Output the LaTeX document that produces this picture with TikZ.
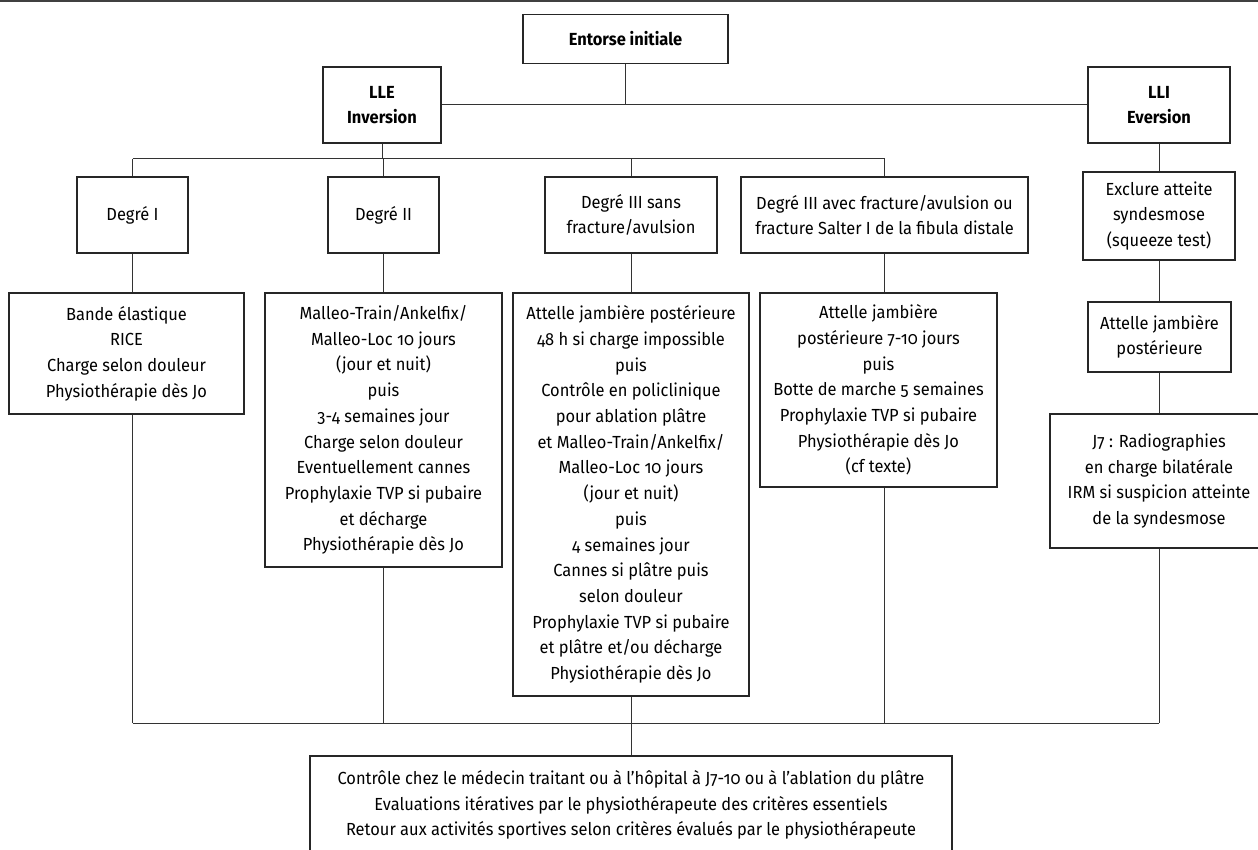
\documentclass[tikz,border=0pt]{standalone}
\usepackage{fontspec}
\setmainfont{Fira Sans}[FakeStretch=0.94,RawFeature=+onum]
\usepackage{tikz}
\usetikzlibrary{positioning}

\begin{document}
\begin{tikzpicture}[x=1pt,y=-1pt,
  box/.style={draw=black!85,line width=1.3pt,align=center,inner sep=0pt,
    font=\fontsize{17.5pt}{25.7pt}\selectfont},
  headbox/.style={box,font=\fontsize{17.5pt}{25.7pt}\selectfont\bfseries},
  link/.style={draw=black!80,line width=1pt}]
\clip (0,0) rectangle (1258,850);
\fill[white] (0,0) rectangle (1258,850);
\draw[black!75,line width=2pt] (0,1) -- (1258,1);

% top levels
\node[headbox,minimum width=205,minimum height=49] (entorse) at (625.5,39) {Entorse initiale};
\node[headbox,minimum width=118,minimum height=76] (lle) at (382,105) {LLE\\Inversion};
\node[headbox,minimum width=142,minimum height=76] (lli) at (1159,105) {LLI\\Eversion};

% degrees
\node[box,minimum width=111,minimum height=76] (deg1) at (132.5,215) {Degré I};
\node[box,minimum width=111,minimum height=76] (deg2) at (383.5,215) {Degré II};
\node[box,minimum width=172,minimum height=76] (deg3s) at (631,215) {Degré III sans\\fracture/avulsion};
\node[box,minimum width=287,minimum height=76] (deg3a) at (884.5,215) {Degré III avec fracture/avulsion ou\\fracture Salter I de la fibula distale};
\node[box,minimum width=152,minimum height=88] (exclure) at (1159,216) {Exclure atteite\\syndesmose\\(squeeze test)};

% treatments
\node[box,minimum width=235,minimum height=121] (bande) at (126.5,353.5) {Bande élastique\\RICE\\Charge selon douleur\\Physiothérapie dès Jo};
\node[box,minimum width=237,minimum height=274] (malleo) at (383.5,430) {Malleo-Train/Ankelfix/\\Malleo-Loc 10 jours\\(jour et nuit)\\puis\\3-4 semaines jour\\Charge selon douleur\\Eventuellement cannes\\Prophylaxie TVP si pubaire\\et décharge\\Physiothérapie dès Jo};
\node[box,minimum width=236,minimum height=403] (attelle) at (631,494.5) {Attelle jambière postérieure\\48 h si charge impossible\\puis\\Contrôle en policlinique\\pour ablation plâtre\\et Malleo-Train/Ankelfix/\\Malleo-Loc 10 jours\\(jour et nuit)\\puis\\4 semaines jour\\Cannes si plâtre puis\\selon douleur\\Prophylaxie TVP si pubaire\\et plâtre et/ou décharge\\Physiothérapie dès Jo};
\node[box,minimum width=237,minimum height=194] (botte) at (878.5,390) {Attelle jambière\\postérieure 7-10 jours\\puis\\Botte de marche 5 semaines\\Prophylaxie TVP si pubaire\\Physiothérapie dès Jo\\(cf texte)};
\node[box,minimum width=143,minimum height=70] (ajp) at (1159.5,337) {Attelle jambière\\postérieure};
\node[box,minimum width=218,minimum height=134] (radio) at (1159,481) {J7 : Radiographies\\en charge bilatérale\\IRM si suspicion atteinte\\de la syndesmose};

% follow-up
\node[box,minimum width=642,minimum height=98] (suivi) at (631,805) {Contrôle chez le médecin traitant ou à l’hôpital à J7-10 ou à l’ablation du plâtre\\Evaluations itératives par le physiothérapeute des critères essentiels\\Retour aux activités sportives selon critères évalués par le physiothérapeute};

\coordinate (split) at (625.5,105);
\coordinate (fork) at (382,159);
\coordinate (join) at (631,723);

\draw[link] (entorse.south) -- (split);
\draw[link] (lle.east) -- (lli.west);
\draw[link] (lle.south) -- (fork);
\draw[link] (fork -| deg1.north) -- (fork -| deg3a.north);
\draw[link] (fork -| deg1.north) -- (deg1.north);
\draw[link] (fork -| deg2.north) -- (deg2.north);
\draw[link] (fork -| deg3s.north) -- (deg3s.north);
\draw[link] (fork -| deg3a.north) -- (deg3a.north);
\draw[link] (deg1.south) -- (deg1.south |- bande.north);
\draw[link] (deg2.south) -- (malleo.north);
\draw[link] (deg3s.south) -- (attelle.north);
\draw[link] (deg3a.south) -- (deg3a.south |- botte.north);
\draw[link] (lli.south) -- (exclure.north);
\draw[link] (exclure.south) -- (ajp.north -| exclure.south);
\draw[link] (ajp.south -| radio.north) -- (radio.north);
\draw[link] (deg1.south |- bande.south) -- (deg1.south |- join);
\draw[link] (join -| deg1.south) -- (join -| radio.south);
\draw[link] (malleo.south) -- (malleo.south |- join);
\draw[link] (attelle.south) -- (join);
\draw[link] (deg3a.south |- botte.south) -- (deg3a.south |- join);
\draw[link] (radio.south) -- (radio.south |- join);
\draw[link] (join) -- (suivi.north);
\end{tikzpicture}
\end{document}
